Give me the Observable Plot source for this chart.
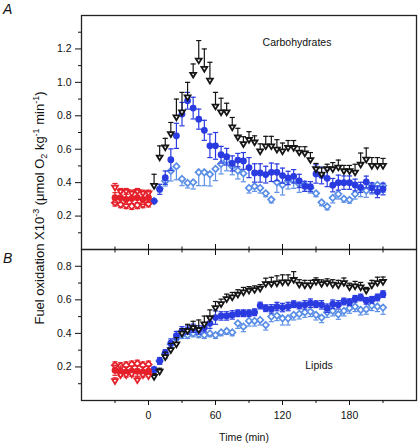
<!DOCTYPE html>
<html><head><meta charset="utf-8">
<script src="https://cdn.jsdelivr.net/npm/d3@7"></script>
<script src="https://cdn.jsdelivr.net/npm/@observablehq/plot@0.6"></script>
<style>
body{margin:0;background:#fff;font-family:"Liberation Sans",Arial,sans-serif;}
#wrap{position:relative;width:419px;height:446px;overflow:hidden;}
#wrap svg{position:absolute;left:0;overflow:visible;background:transparent;}
.lab{position:absolute;font-style:italic;font-size:14px;color:#111;}
#ytitle{position:absolute;white-space:nowrap;font-size:13px;color:#111;left:40px;top:208px;transform:translate(-50%,-50%) rotate(-90deg);}
#ytitle sup,#ytitle sub{font-size:9px;}
</style></head><body>
<div id="wrap">
<div class="lab" style="left:3px;top:1px">A</div>
<div class="lab" style="left:3px;top:250px">B</div>
<div id="ytitle">Fuel oxidation X10<sup>-3</sup> (μmol O<sub>2</sub> kg<sup>-1</sup> min<sup>-1</sup>)</div>
</div>
<script>
const time = [5,10,15,20,25,30,35,40,45,50,55,60,65,70,75,80,85,90,95,100,105,110,115,120,125,130,135,140,145,150,155,160,165,170,175,180,185,190,195,200,205,210];
const baseTime = [-30,-25,-20,-15,-10,-5,0];

// Carbohydrates
const carbBlack = [0.38,0.55,0.61,0.69,0.79,0.82,0.91,1.045,1.13,1.08,1.01,0.855,0.82,0.82,0.73,0.67,0.63,0.655,0.64,0.587,0.617,0.617,0.597,0.587,0.607,0.607,0.58,0.575,0.535,0.48,0.448,0.48,0.48,0.49,0.468,0.468,0.46,0.507,0.537,0.50,0.50,0.50];
const carbBlackErr = [0.07,0.07,0.055,0.07,0.11,0.12,0.09,0.065,0.12,0.12,0.11,0.085,0.085,0.055,0.06,0.055,0.045,0.05,0.04,0.045,0.06,0.06,0.06,0.05,0.045,0.045,0.035,0.04,0.045,0.035,0.04,0.03,0.04,0.045,0.035,0.035,0.05,0.07,0.07,0.05,0.05,0.045];
const carbBlue = [0.29,0.36,0.43,0.537,0.68,0.81,0.89,0.846,0.78,0.713,0.62,0.62,0.567,0.555,0.515,0.535,0.53,0.49,0.458,0.458,0.448,0.462,0.462,0.442,0.428,0.438,0.41,0.378,0.376,0.452,0.443,0.426,0.385,0.40,0.40,0.40,0.386,0.372,0.404,0.369,0.345,0.362];
const carbBlueErr = [0,0.03,0.04,0.065,0.075,0.07,0.05,0.065,0.06,0.06,0.07,0.08,0.05,0.05,0.045,0.04,0.05,0.06,0.055,0.055,0.05,0.055,0.05,0.045,0.04,0.04,0.04,0.03,0.03,0.055,0.05,0.05,0.04,0.045,0.04,0.04,0.035,0.03,0.035,0.03,0.035,0.035];
const carbLight = [0.29,0.365,0.41,0.47,0.497,0.422,0.398,0.402,0.462,0.462,0.45,0.482,0.512,0.531,0.497,0.472,0.455,0.368,0.378,0.368,0.336,0.299,0.402,0.386,0.412,0.416,0.392,0.388,0.368,0.336,0.282,0.257,0.309,0.332,0.303,0.297,0.332,0.366,0.352,0.382,0.386,0.382];
const carbLightErr = [0,0.02,0.03,0.06,0.08,0.04,0.03,0.04,0.08,0.08,0.07,0.07,0.06,0.06,0.05,0.05,0.05,0.03,0.03,0.03,0.02,0.02,0.06,0.06,0.05,0.05,0.05,0.04,0.03,0.02,0.02,0.02,0.03,0.03,0.02,0.02,0.03,0.05,0.04,0.05,0.05,0.04];
const carbRedTri = [0.37,0.345,0.345,0.335,0.345,0.335,0.335];
const carbRedTriErr = [0.025,0.02,0.02,0.02,0.02,0.02,0.02];
const carbRedFill = [0.31,0.31,0.30,0.305,0.31,0.30,0.31];
const carbRedFillErr = [0.03,0.03,0.03,0.03,0.03,0.03,0.03];
const carbRedOpen = [0.28,0.27,0.265,0.26,0.265,0.27,0.275];
const carbRedOpenErr = [0.02,0.02,0.02,0.02,0.02,0.02,0.02];

// Lipids
const lipBlack = [0.14,0.172,0.258,0.30,0.334,0.398,0.414,0.432,0.42,0.453,0.49,0.55,0.574,0.604,0.614,0.63,0.644,0.654,0.658,0.666,0.694,0.694,0.698,0.704,0.704,0.718,0.69,0.686,0.686,0.706,0.694,0.70,0.69,0.686,0.70,0.674,0.68,0.674,0.654,0.686,0.70,0.706];
const lipBlackErr = [0.02,0.02,0.03,0.04,0.04,0.03,0.04,0.04,0.06,0.05,0.05,0.04,0.03,0.03,0.03,0.03,0.03,0.025,0.025,0.025,0.035,0.04,0.045,0.045,0.045,0.05,0.03,0.03,0.03,0.025,0.025,0.025,0.03,0.03,0.03,0.025,0.03,0.03,0.02,0.03,0.035,0.03];
const lipBlue = [0.184,0.236,0.283,0.342,0.387,0.415,0.42,0.43,0.42,0.434,0.46,0.494,0.504,0.504,0.51,0.52,0.52,0.52,0.526,0.566,0.55,0.546,0.56,0.554,0.56,0.574,0.566,0.57,0.58,0.574,0.57,0.55,0.574,0.57,0.59,0.586,0.606,0.614,0.594,0.60,0.614,0.634];
const lipBlueErr = [0.015,0.02,0.02,0.025,0.025,0.025,0.025,0.025,0.025,0.025,0.03,0.04,0.025,0.025,0.025,0.02,0.02,0.02,0.02,0.02,0.02,0.025,0.025,0.025,0.025,0.02,0.02,0.025,0.025,0.02,0.025,0.025,0.025,0.025,0.02,0.02,0.02,0.02,0.02,0.02,0.02,0.02];
const lipLight = [0.184,0.236,0.28,0.335,0.37,0.39,0.39,0.40,0.395,0.39,0.40,0.39,0.406,0.414,0.406,0.46,0.44,0.474,0.474,0.48,0.45,0.50,0.506,0.49,0.49,0.51,0.516,0.526,0.53,0.51,0.494,0.526,0.534,0.514,0.534,0.55,0.56,0.54,0.544,0.566,0.56,0.554];
const lipLightErr = [0.02,0.02,0.03,0.03,0.03,0.02,0.02,0.02,0.02,0.02,0.02,0.02,0.02,0.02,0.02,0.03,0.03,0.03,0.03,0.03,0.03,0.03,0.03,0.04,0.04,0.03,0.03,0.03,0.03,0.03,0.03,0.03,0.03,0.03,0.03,0.03,0.03,0.03,0.03,0.03,0.03,0.04];
const lipRedTri = [0.115,0.15,0.15,0.155,0.12,0.15,0.145];
const lipRedTriErr = [0.02,0.02,0.02,0.02,0.02,0.02,0.02];
const lipRedFill = [0.18,0.175,0.17,0.175,0.175,0.17,0.175];
const lipRedFillErr = [0.03,0.03,0.03,0.03,0.03,0.03,0.03];
const lipRedOpen = [0.21,0.205,0.21,0.215,0.22,0.21,0.215];
const lipRedOpenErr = [0.02,0.02,0.02,0.02,0.02,0.02,0.02];

// Axis ticks
const xMajor = [0,60,120,180];
const xMinor = [-30,30,90,150,210];
const yMajorTop = [0.2,0.4,0.6,0.8,1.0,1.2];
const yMinorTop = [0.1,0.3,0.5,0.7,0.9,1.1,1.3];
const yMajorBot = [0.2,0.4,0.6,0.8];
const yMinorBot = [0.1,0.3,0.5,0.7];

const C = {black:"#151515", blue:"#2a3be0", light:"#5a8ee6", red:"#e5202a"};

const rows = (ts, v, e) => ts.map((t,i) => ({t, v:v[i], e:e[i]}));
const cap = {draw(ctx, size){ const r = Math.sqrt(size/Math.PI); ctx.moveTo(-r,0); ctx.lineTo(r,0); }};
const triDown = {draw(ctx, size){ const r = Math.sqrt(size/Math.PI); ctx.moveTo(-r,-0.7*r); ctx.lineTo(r,-0.7*r); ctx.lineTo(0,0.95*r); ctx.closePath(); }};

function series(data, color, symbol, fill, dir, r, sw){
  const lo = d => dir === "up" ? d.v : d.v - d.e;
  const hi = d => dir === "down" ? d.v : d.v + d.e;
  const marks = [Plot.ruleX(data, {x:"t", y1:lo, y2:hi, stroke:color, strokeWidth:1.2})];
  if (dir !== "down") marks.push(Plot.dot(data, {x:"t", y:hi, symbol:cap, r:2.6, fill:"none", stroke:color, strokeWidth:1.2}));
  if (dir !== "up") marks.push(Plot.dot(data, {x:"t", y:lo, symbol:cap, r:2.6, fill:"none", stroke:color, strokeWidth:1.2}));
  marks.push(Plot.dot(data, {x:"t", y:"v", symbol, r, fill, stroke:color, strokeWidth:sw}));
  return marks;
}

const style = {fontFamily:"Liberation Sans, Arial, sans-serif", fontSize:"10.5px", background:"transparent", overflow:"visible", color:"#111"};
const xScale = {domain:[-60,240]};
const blank = () => "";

const plotA = Plot.plot({
  width:419, height:258, marginTop:15, marginBottom:9, marginLeft:81, marginRight:3,
  style, x:xScale, y:{domain:[0,1.4]},
  marks:[
    Plot.frame({stroke:"#222", strokeWidth:1.3}),
    Plot.axisY({ticks:yMajorTop, tickSize:6, tickPadding:4, tickFormat:d3.format(".1f"), label:null}),
    Plot.axisY({ticks:yMinorTop, tickSize:3, tickFormat:blank, label:null}),
    Plot.axisX({ticks:xMajor, tickSize:6, tickFormat:blank, label:null}),
    Plot.axisX({ticks:xMinor, tickSize:3.5, tickFormat:blank, label:null}),
    ...series(rows(time, carbLight, carbLightErr), C.light, "diamond2", "white", "down", 2.9, 1.7),
    ...series(rows(time, carbBlue, carbBlueErr), C.blue, "circle", C.blue, "both", 2.8, 1.2),
    ...series(rows(time, carbBlack, carbBlackErr), C.black, triDown, "white", "up", 2.9, 1.8),
    ...series(rows(baseTime, carbRedOpen, carbRedOpenErr), C.red, "diamond2", "white", "down", 2.9, 1.7),
    ...series(rows(baseTime, carbRedFill, carbRedFillErr), C.red, "circle", C.red, "both", 2.8, 1.2),
    ...series(rows(baseTime, carbRedTri, carbRedTriErr), C.red, triDown, "white", "up", 2.9, 1.8),
    Plot.text(["Carbohydrates"], {frameAnchor:"top", dx:48, dy:23, fontSize:10.5, fill:"#111"})
  ]
});
plotA.style.top = "0px";

const plotB = Plot.plot({
  width:419, height:205, marginTop:8, marginBottom:46, marginLeft:81, marginRight:3,
  style, x:xScale, y:{domain:[0,0.9]},
  marks:[
    Plot.frame({stroke:"#222", strokeWidth:1.3}),
    Plot.axisY({ticks:yMajorBot, tickSize:6, tickPadding:4, tickFormat:d3.format(".1f"), label:null}),
    Plot.axisY({ticks:yMinorBot, tickSize:3, tickFormat:blank, label:null}),
    Plot.axisX({anchor:"top", ticks:xMajor, tickSize:6, tickFormat:blank, label:null}),
    Plot.axisX({anchor:"top", ticks:xMinor, tickSize:3.5, tickFormat:blank, label:null}),
    Plot.axisX({anchor:"bottom", ticks:xMajor, tickSize:5, tickPadding:6, label:null}),
    Plot.axisX({anchor:"bottom", ticks:xMinor, tickSize:3, tickFormat:blank, label:null}),
    ...series(rows(time, lipLight, lipLightErr), C.light, "diamond2", "white", "down", 2.9, 1.7),
    ...series(rows(time, lipBlue, lipBlueErr), C.blue, "circle", C.blue, "both", 2.8, 1.2),
    ...series(rows(time, lipBlack, lipBlackErr), C.black, triDown, "white", "up", 2.9, 1.8),
    ...series(rows(baseTime, lipRedOpen, lipRedOpenErr), C.red, "diamond2", "white", "up", 2.9, 1.7),
    ...series(rows(baseTime, lipRedFill, lipRedFillErr), C.red, "circle", C.red, "both", 2.8, 1.2),
    ...series(rows(baseTime, lipRedTri, lipRedTriErr), C.red, triDown, "white", "up", 2.9, 1.8),
    Plot.text(["Lipids"], {frameAnchor:"bottom", dx:70, dy:-32, fontSize:10.5, fill:"#111"}),
    Plot.text(["Time (min)"], {frameAnchor:"bottom", dx:-5, dy:40, fontSize:10.5, fill:"#111"})
  ]
});
plotB.style.top = "241px";

const wrap = document.getElementById("wrap");
wrap.appendChild(plotA);
wrap.appendChild(plotB);
</script>
</body></html>
